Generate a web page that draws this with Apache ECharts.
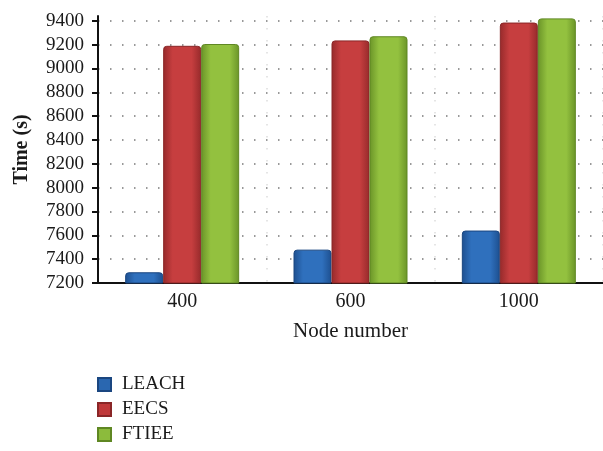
<!DOCTYPE html>
<html>
<head>
<meta charset="utf-8">
<script src="https://cdn.jsdelivr.net/npm/echarts@6/dist/echarts.min.js"></script>
<style>
  html, body { margin: 0; padding: 0; background: #fff; }
  #chart { width: 603px; height: 451px; }
</style>
</head>
<body>
<div id="chart"></div>
<script>
const categories = ["400", "600", "1000"];
const leach = [7290, 7480, 7640];
const eecs = [9190, 9235, 9385];
const ftiee = [9205, 9270, 9420];
const yTicks = [7200, 7400, 7600, 7800, 8000, 8200, 8400, 8600, 8800, 9000, 9200, 9400];

const font = "'Liberation Serif', 'DejaVu Serif', serif";

// bar fill with a bit of shading, darker at the edges
function shade(edge, mid) {
  return new echarts.graphic.LinearGradient(0, 0, 1, 0, [
    { offset: 0, color: edge },
    { offset: 0.25, color: mid },
    { offset: 0.75, color: mid },
    { offset: 1, color: edge }
  ]);
}

function barSeries(name, data, edge, mid, border) {
  return {
    name: name,
    type: "bar",
    data: data,
    barWidth: 38,
    barGap: "0%",
    itemStyle: {
      color: shade(edge, mid),
      borderColor: border,
      borderWidth: 1,
      borderRadius: [3, 3, 0, 0]
    }
  };
}

const chart = echarts.init(document.getElementById("chart"));

chart.setOption({
  animation: false,
  grid: { left: 98, top: 16, width: 510, height: 267 },
  legend: {
    orient: "vertical",
    left: 92,
    top: 370,
    itemWidth: 13,
    itemHeight: 13,
    itemGap: 6,
    icon: "rect",
    textStyle: { fontFamily: font, fontSize: 19, color: "#1a1a1a", lineHeight: 18, padding: [0, 0, 0, 6] },
    data: [
      { name: "LEACH", itemStyle: { color: "#2a67b0" } },
      { name: "EECS", itemStyle: { color: "#c0393a" } },
      { name: "FTIEE", itemStyle: { color: "#8cbb3c" } }
    ]
  },
  xAxis: {
    type: "category",
    data: categories,
    name: "Node number",
    nameLocation: "middle",
    nameGap: 38,
    nameTextStyle: { fontFamily: font, fontSize: 21, color: "#1a1a1a" },
    axisLine: { lineStyle: { color: "#111", width: 2 } },
    axisTick: { show: false },
    axisLabel: { fontFamily: font, fontSize: 20, color: "#1a1a1a", margin: 9 },
    splitLine: {
      show: true,
      lineStyle: { color: "#ddd", width: 1.5, type: [1.5, 10.5] }
    }
  },
  yAxis: {
    type: "value",
    min: 7200,
    max: 9440,
    interval: 200,
    name: "Time (s)",
    nameLocation: "middle",
    nameGap: 66,
    nameTextStyle: { fontFamily: font, fontSize: 20, fontWeight: "bold", color: "#1a1a1a" },
    axisLine: { show: true, lineStyle: { color: "#111", width: 2 } },
    axisTick: { show: true, length: 6, lineStyle: { color: "#111", width: 2 }, customValues: yTicks },
    axisLabel: {
      fontFamily: font, fontSize: 19, color: "#1a1a1a", margin: 14,
      customValues: yTicks,
      formatter: function (v) { return String(v); }
    },
    splitLine: {
      show: true,
      lineStyle: { color: "#999", width: 2, type: [1.5, 10.5] }
    }
  },
  series: [
    barSeries("LEACH", leach, "#1d4f8f", "#2f70bd", "#1a4680"),
    barSeries("EECS", eecs, "#962a2b", "#c63e3f", "#8a2627"),
    barSeries("FTIEE", ftiee, "#6a9428", "#93c13f", "#5f8723")
  ]
});
</script>
</body>
</html>
